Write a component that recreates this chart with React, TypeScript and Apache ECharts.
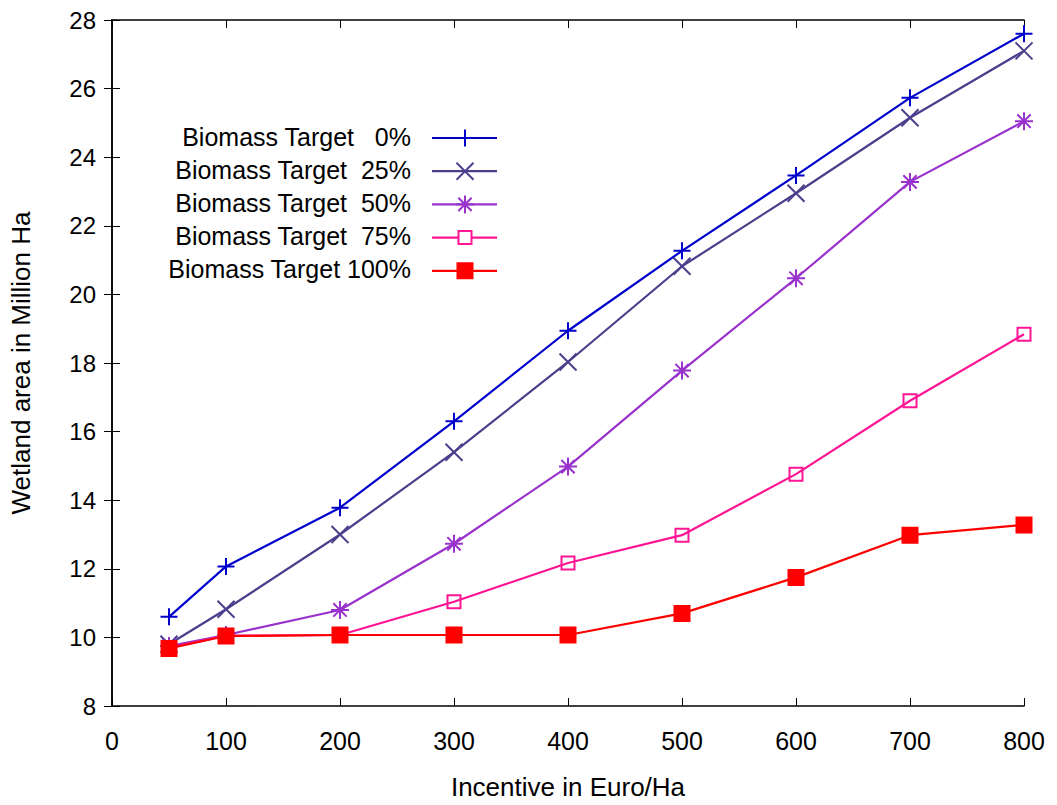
import React, { useEffect, useRef } from "react";
import * as echarts from "echarts";

const incentives = [50, 100, 200, 300, 400, 500, 600, 700, 800];
const seriesNames = [
  "Biomass Target   0%",
  "Biomass Target  25%",
  "Biomass Target  50%",
  "Biomass Target  75%",
  "Biomass Target 100%",
];
const target0 = [10.6, 12.07, 13.78, 16.3, 18.94, 21.27, 23.47, 25.73, 27.6];
const target25 = [9.8, 10.82, 13.0, 15.4, 18.03, 20.82, 22.95, 25.15, 27.1];
const target50 = [9.75, 10.07, 10.8, 12.73, 14.98, 17.78, 20.47, 23.28, 25.05];
const target75 = [9.7, 10.05, 10.07, 11.04, 12.17, 12.98, 14.76, 16.9, 18.84];
const target100 = [9.68, 10.04, 10.07, 10.07, 10.07, 10.7, 11.75, 12.98, 13.28];
const yTicks = [8, 10, 12, 14, 16, 18, 20, 22, 24, 26, 28];
const xTicks = [0, 100, 200, 300, 400, 500, 600, 700, 800];

const colors = ["#0000CC", "#4B3F8C", "#9932CC", "#FF1493", "#FF0000"];
const PLUS = "path://M0,5 L10,5 M5,0 L5,10";
const CROSS = "path://M0,0 L10,10 M10,0 L0,10";
const STAR = "path://M5,0 L5,10 M0,5 L10,5 M1.3,1.3 L8.7,8.7 M8.7,1.3 L1.3,8.7";
const SQUARE = "path://M0,0 L10,0 L10,10 L0,10 Z";
const symbols = [PLUS, CROSS, STAR, SQUARE, SQUARE];
const symbolSizes = [17, 17, 18, 13, 15];
const fills = ["none", "none", "none", "rgba(255,255,255,0)", "#FF0000"];

const allData = [target0, target25, target50, target75, target100];
const FONT = "'Liberation Sans', Arial, sans-serif";

export default function App() {
  const ref = useRef<HTMLDivElement>(null);
  useEffect(() => {
    if (!ref.current) return;
    const chart = echarts.init(ref.current, undefined, { renderer: "svg" });
    const series: any[] = allData.map((d, i) => ({
      name: seriesNames[i],
      type: "line",
      data: d.map((v, j) => [incentives[j], v]),
      symbol: symbols[i],
      symbolSize: symbolSizes[i],
      showAllSymbol: true,
      lineStyle: { color: colors[i], width: 2.2 },
      itemStyle: {
        color: fills[i] === "none" ? colors[i] : fills[i],
        borderColor: colors[i],
        borderWidth: 2,
      },
      emphasis: { disabled: true },
      z: 2 + i,
    }));

    const legendX = 411;
    const legendY0 = 138;
    const legendDy = 33.2;
    const graphics: any[] = [];
    seriesNames.forEach((name, i) => {
      const y = legendY0 + i * legendDy;
      graphics.push({
        type: "text",
        right: 1057 - legendX,
        top: y - 14,
        style: { text: name.replace(/ {2,}/g, (m) => "\u00a0".repeat(m.length)), fill: "#000", font: `25px ${FONT}`, textAlign: "right" },
      });
      graphics.push({
        type: "line",
        shape: { x1: 432, y1: y, x2: 497, y2: y },
        style: { stroke: colors[i], lineWidth: 2.2 },
      });
      const cx = 465;
      const s = symbolSizes[i] / 2;
      if (i === 0) {
        graphics.push({ type: "line", shape: { x1: cx - s, y1: y, x2: cx + s, y2: y }, style: { stroke: colors[i], lineWidth: 2 } });
        graphics.push({ type: "line", shape: { x1: cx, y1: y - s, x2: cx, y2: y + s }, style: { stroke: colors[i], lineWidth: 2 } });
      } else if (i === 1) {
        graphics.push({ type: "line", shape: { x1: cx - s, y1: y - s, x2: cx + s, y2: y + s }, style: { stroke: colors[i], lineWidth: 2 } });
        graphics.push({ type: "line", shape: { x1: cx - s, y1: y + s, x2: cx + s, y2: y - s }, style: { stroke: colors[i], lineWidth: 2 } });
      } else if (i === 2) {
        const d = s * 0.74;
        graphics.push({ type: "line", shape: { x1: cx - s, y1: y, x2: cx + s, y2: y }, style: { stroke: colors[i], lineWidth: 2 } });
        graphics.push({ type: "line", shape: { x1: cx, y1: y - s, x2: cx, y2: y + s }, style: { stroke: colors[i], lineWidth: 2 } });
        graphics.push({ type: "line", shape: { x1: cx - d, y1: y - d, x2: cx + d, y2: y + d }, style: { stroke: colors[i], lineWidth: 2 } });
        graphics.push({ type: "line", shape: { x1: cx - d, y1: y + d, x2: cx + d, y2: y - d }, style: { stroke: colors[i], lineWidth: 2 } });
      } else if (i === 3) {
        graphics.push({ type: "rect", shape: { x: cx - s, y: y - s, width: 2 * s, height: 2 * s }, style: { fill: "#fff", stroke: colors[i], lineWidth: 2 } });
      } else {
        graphics.push({ type: "rect", shape: { x: cx - s, y: y - s, width: 2 * s, height: 2 * s }, style: { fill: colors[i], stroke: colors[i], lineWidth: 2 } });
      }
    });

    const axisLine = { show: true, lineStyle: { color: "#000", width: 1.5 } };
    const tick = { show: true, inside: true, length: 8, lineStyle: { color: "#000", width: 1 } };

    chart.setOption({
      animation: false,
      backgroundColor: "#fff",
      grid: { left: 110, right: 33, top: 20, bottom: 96 },
      xAxis: [
        {
          type: "value",
          min: 0,
          max: 800,
          interval: 100,
          name: "Incentive in Euro/Ha",
          nameLocation: "middle",
          nameGap: 68,
          nameTextStyle: { fontFamily: FONT, fontSize: 26, color: "#000" },
          axisLine,
          axisTick: tick,
          splitLine: { show: false },
          axisLabel: { fontFamily: FONT, fontSize: 25, color: "#000", margin: 22, formatter: (v: number) => (xTicks.includes(v) ? String(v) : "") },
        },
        {
          type: "value",
          position: "top",
          min: 0,
          max: 800,
          interval: 100,
          axisLine,
          axisTick: tick,
          axisLabel: { show: false },
          splitLine: { show: false },
        },
      ],
      yAxis: [
        {
          type: "value",
          min: 8,
          max: 28,
          interval: 2,
          name: "Wetland area in Million Ha",
          nameLocation: "middle",
          nameGap: 78,
          nameTextStyle: { fontFamily: FONT, fontSize: 26, color: "#000" },
          axisLine,
          axisTick: tick,
          splitLine: { show: false },
          axisLabel: { fontFamily: FONT, fontSize: 24, color: "#000", margin: 16, formatter: (v: number) => (yTicks.includes(v) ? String(v) : "") },
        },
        {
          type: "value",
          position: "right",
          min: 8,
          max: 28,
          interval: 2,
          axisLine,
          axisTick: tick,
          axisLabel: { show: false },
          splitLine: { show: false },
        },
      ],
      series,
      graphic: graphics,
    });
    return () => chart.dispose();
  }, []);
  return <div ref={ref} style={{ width: 1057, height: 805, position: "absolute", left: 0, top: 0 }} />;
}
